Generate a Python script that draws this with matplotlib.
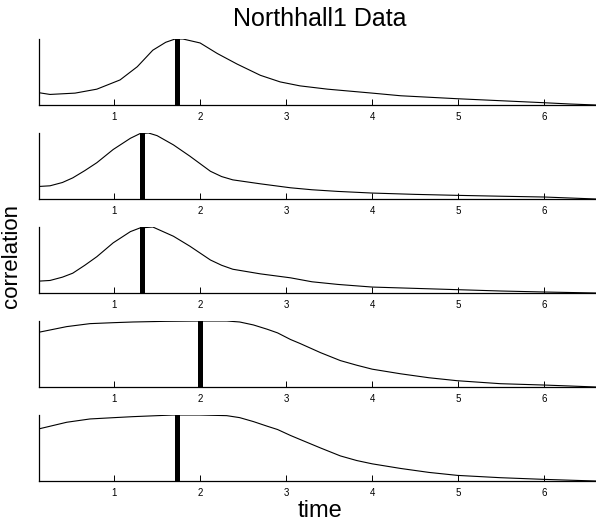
import matplotlib
matplotlib.use("Agg")
import matplotlib.pyplot as plt

plt.rcParams['font.family'] = ['Liberation Sans', 'DejaVu Sans']

title = "Northhall1 Data"
xlabel = "time"
ylabel = "correlation"
xticks = [1, 2, 3, 4, 5, 6]
xlim = (0.128, 6.6)

t1 = [0.128, 0.256, 0.547, 0.80, 1.07, 1.27, 1.45, 1.60, 1.71, 1.80, 2.0, 2.2, 2.43, 2.70, 2.93, 3.16, 3.48, 4.0, 4.33, 4.99, 5.49, 5.99, 6.3, 6.6]
v1 = [0.186, 0.16, 0.18, 0.24, 0.38, 0.58, 0.83, 0.95, 1.0, 1.0, 0.94, 0.78, 0.62, 0.45, 0.35, 0.29, 0.24, 0.18, 0.14, 0.095, 0.065, 0.035, 0.015, 0.0]

t2 = [0.128, 0.256, 0.40, 0.52, 0.66, 0.80, 0.99, 1.19, 1.30, 1.40, 1.50, 1.69, 1.88, 2.12, 2.25, 2.38, 2.70, 3.05, 3.3, 3.6, 4.0, 4.5, 5.0, 5.5, 6.0, 6.3, 6.6]
v2 = [0.19, 0.20, 0.25, 0.32, 0.43, 0.55, 0.75, 0.92, 0.99, 1.0, 0.96, 0.82, 0.65, 0.42, 0.34, 0.29, 0.23, 0.17, 0.14, 0.115, 0.09, 0.07, 0.055, 0.042, 0.03, 0.015, 0.0]

t3 = [0.128, 0.256, 0.40, 0.52, 0.66, 0.80, 0.99, 1.19, 1.30, 1.45, 1.69, 1.88, 2.12, 2.25, 2.38, 2.70, 3.05, 3.3, 3.6, 4.0, 4.5, 5.0, 5.5, 6.0, 6.6]
v3 = [0.18, 0.19, 0.24, 0.30, 0.42, 0.55, 0.76, 0.93, 0.985, 1.0, 0.86, 0.71, 0.50, 0.42, 0.36, 0.29, 0.23, 0.17, 0.13, 0.09, 0.07, 0.05, 0.03, 0.015, 0.0]

t4 = [0.128, 0.45, 0.72, 1.0, 1.22, 1.6, 2.0, 2.31, 2.46, 2.62, 2.78, 2.90, 3.05, 3.16, 3.4, 3.63, 3.82, 4.0, 4.33, 4.66, 4.99, 5.49, 5.99, 6.3, 6.6]
v4 = [0.83, 0.915, 0.96, 0.975, 0.985, 0.995, 1.0, 1.0, 0.985, 0.94, 0.875, 0.82, 0.72, 0.66, 0.52, 0.40, 0.33, 0.27, 0.20, 0.14, 0.095, 0.05, 0.03, 0.015, 0.0]

t5 = [0.128, 0.45, 0.72, 1.0, 1.22, 1.69, 2.0, 2.31, 2.46, 2.62, 2.78, 2.90, 3.05, 3.16, 3.4, 3.63, 3.82, 4.0, 4.33, 4.66, 4.99, 5.49, 5.99, 6.3, 6.6]
v5 = [0.79, 0.89, 0.94, 0.96, 0.975, 1.0, 1.0, 0.99, 0.96, 0.9, 0.83, 0.78, 0.69, 0.63, 0.50, 0.38, 0.31, 0.26, 0.19, 0.13, 0.085, 0.05, 0.025, 0.012, 0.0]

markers = [1.73, 1.32, 1.32, 2.0, 1.73]

series = [(t1, v1), (t2, v2), (t3, v3), (t4, v4), (t5, v5)]

W, H = 596, 524
fig = plt.figure(figsize=(W / 100, H / 100), dpi=100)

tops = [39, 133, 227, 321, 415]
height = 66
left = 39
for i, ((t, v), m) in enumerate(zip(series, markers)):
    top = tops[i]
    ax = fig.add_axes([left / W, 1 - (top + height) / H, (W - left) / W, height / H])
    ax.plot(t, v, color='black', lw=0.8)
    ax.axvline(m, color='black', lw=3.6)
    ax.set_xlim(*xlim)
    ax.set_ylim(0, 1)
    ax.set_xticks(xticks)
    ax.set_xticklabels([str(x) for x in xticks])
    ax.set_yticks([])
    ax.tick_params(axis='x', direction='in', length=4, width=0.7, labelsize=7, pad=5)
    for s in ['top', 'right']:
        ax.spines[s].set_visible(False)
    for s in ['left', 'bottom']:
        ax.spines[s].set_linewidth(0.9)
    ax.patch.set_alpha(0)

fig.text(320 / W, 1 - 19 / H, title, ha='center', va='center', fontsize=18)
fig.text(320 / W, 1 - 511 / H, xlabel, ha='center', va='center', fontsize=17)
fig.text(12 / W, 1 - 256 / H, ylabel, ha='center', va='center', rotation=90, fontsize=16)

fig.savefig("out.png", dpi=100)
